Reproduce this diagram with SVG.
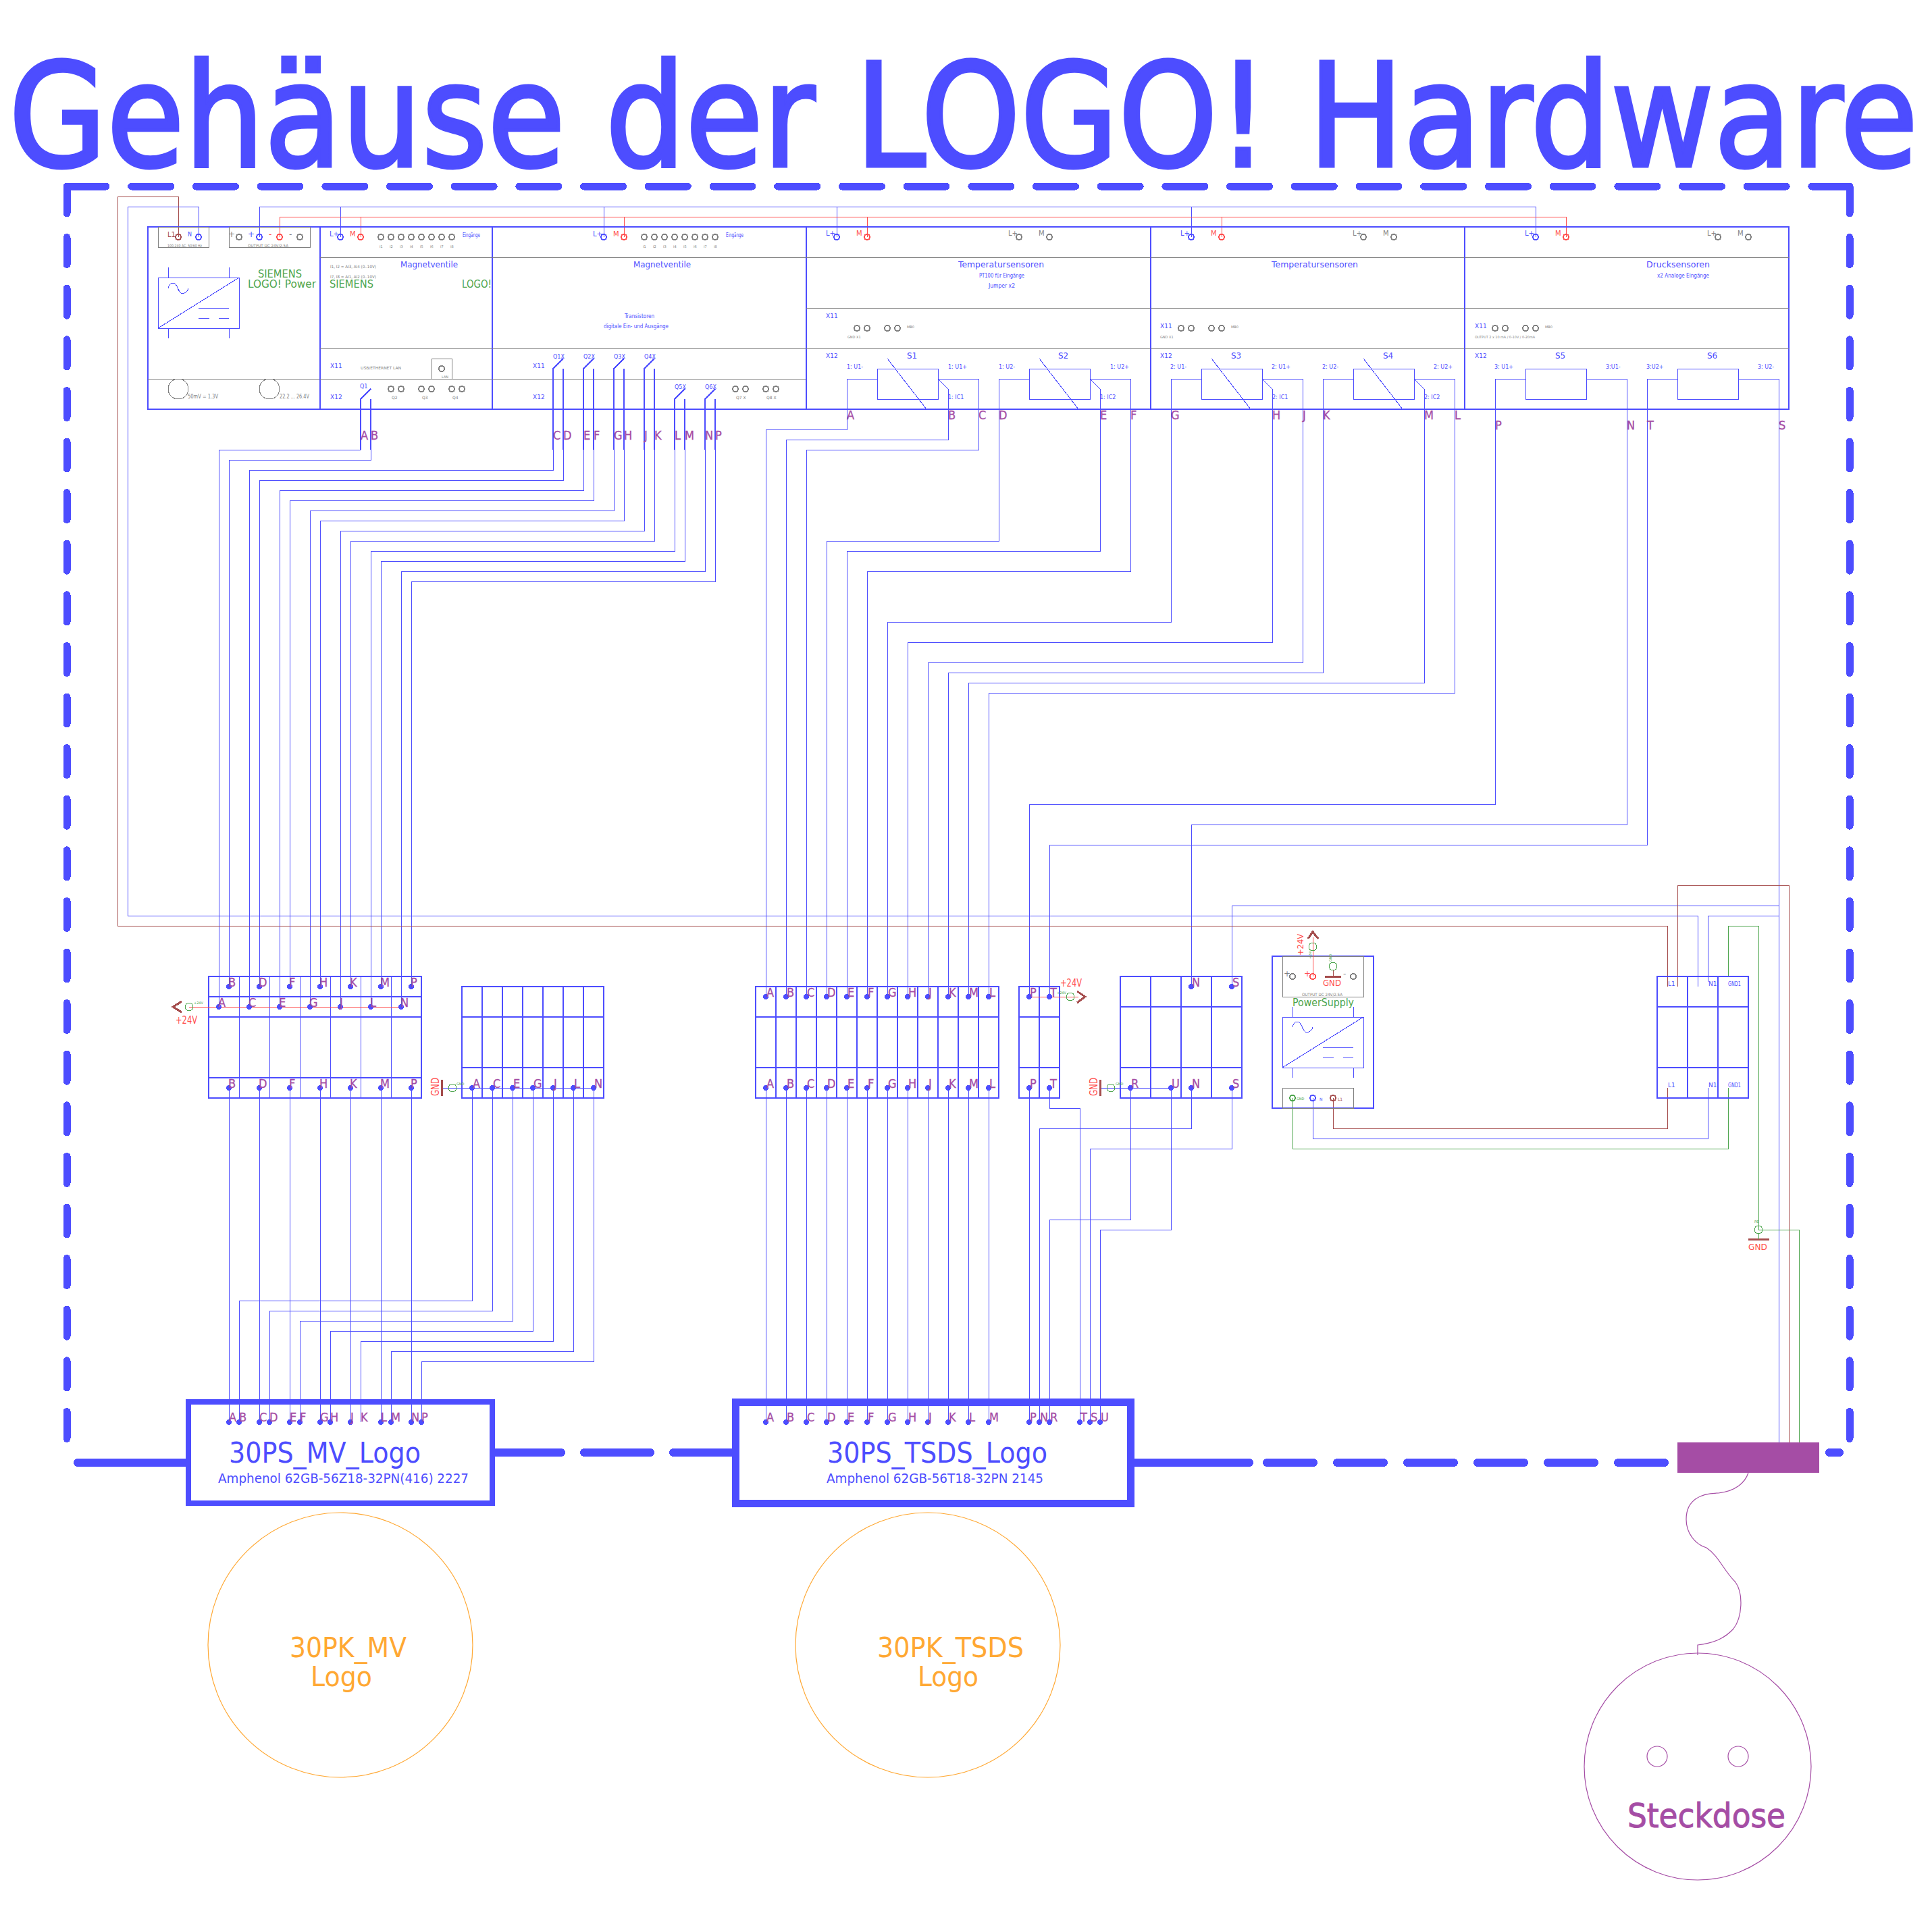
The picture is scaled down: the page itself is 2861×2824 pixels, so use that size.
<svg xmlns="http://www.w3.org/2000/svg" width="2861" height="2824" viewBox="0 0 2861 2824">
<style>
svg{background:#fff;shape-rendering:crispEdges}
text{font-family:"DejaVu Sans","Liberation Sans",sans-serif}
.f{fill:none}
.w{fill:none;stroke:#4D4DFF;stroke-width:1}
.t{fill:none;stroke:#4D4DFF;stroke-width:2}
.n{fill:none;stroke:#4D4DFF;stroke-width:1}
.q{fill:none;stroke:#4D4DFF;stroke-width:2}
.gl{fill:none;stroke:#808080;stroke-width:1}
.rw{fill:none;stroke:#FF4D4D;stroke-width:1}
.mw{fill:none;stroke:#A54D4D;stroke-width:1}
.gw{fill:none;stroke:#4DA54D;stroke-width:1}
.pw{fill:none;stroke:#A54DA5;stroke-width:1.2;shape-rendering:auto}
.ow{fill:none;stroke:#FFA833;stroke-width:1.2;shape-rendering:auto}
.tb{fill:none;stroke:#4D4DFF;stroke-width:2}
.tr{fill:none;stroke:#FF4D4D;stroke-width:2}
.tm{fill:none;stroke:#A54D4D;stroke-width:2}
.tk{fill:none;stroke:#808080;stroke-width:2}
.tg{fill:none;stroke:#4DA54D;stroke-width:1}
.sm{fill:none;stroke:#A54D4D;stroke-width:3}
.fr{fill:none;stroke:#4D4DFF;stroke-linecap:round;stroke-width:11}
.fb{fill:none;stroke:#4D4DFF;stroke-linecap:round;stroke-width:12}
.d{fill:#4D4DFF}
.l{fill:#A54DA5;stroke:#A54DA5;stroke-width:.3;font-size:18px;font-family:"DejaVu Sans Condensed","DejaVu Sans",sans-serif}
.b{fill:#4D4DFF}.r{fill:#FF4D4D}.g{fill:#4DA54D}.m{fill:#A54D4D}.k{fill:#808080}.o{fill:#FFA833}.p{fill:#A54DA5}
.s5{font-size:5px}.s6{font-size:6px}.s8{font-size:8px}.s9{font-size:9px}.s10{font-size:10px}.s12{font-size:12px}.s13{font-size:13px}.s16{font-size:16px}.s17{font-size:17px}
</style>
<defs>
<circle id="T" r="4"/>
<circle id="D" class="d" r="4"/>
<path id="sine" class="w" d="M0 0C2 -8 7 -9 10 -7C14 -4 15 5 19 7C24 9 29 5 30 0"/>
<g id="conv" class="w">
<path d="M0 0H120V75H0ZM0 75L120 0M15 -15V0M105 -15V0M15 75V90M105 75V90M60 45H105M60 60H76M90 60H105"/>
</g>
</defs>

<text id="title" transform="translate(13 246) scale(.882 1)" font-size="212" class="b" stroke="#4D4DFF" stroke-width="5">Gehäuse der LOGO! Hardware</text>

<g id="frame">
<path class="fr" stroke-dasharray="58 37.7" d="M99 276H2739"/>
<path class="fr" stroke-dasharray="40 35.6" d="M99 276V2145"/>
<path class="fr" stroke-dasharray="40 35.6" d="M2739 276V2151"/>
<path class="fb" d="M115 2166H275"/>
<path class="fb" stroke-dasharray="98 34" d="M733 2151H1089"/>
<path class="fb" d="M1680 2166H1850"/>
<path class="fb" stroke-dasharray="69 35" d="M1876 2166H2484"/>
<path class="fb" d="M2709 2151H2724"/>
</g>

<g id="connectors">
<g id="wires-mv" class="w">
<path d="M534 666H324V1491M549 666V681H339V1461M819 666V696H369V1491M834 666V711H384V1461M864 666V726H414V1491M879 666V741H429V1461M909 666V756H459V1491M924 666V771H474V1461M954 666V786H504V1491M969 666V801H519V1461M999 666V816H549V1491M1014 666V831H564V1461M1044 666V846H594V1491M1059 666V861H609V1461"/>
<path d="M339 1611V2106M384 1611V2106M429 1611V2106M474 1611V2106M519 1611V2106M564 1611V2106M609 1611V2106"/>
<path d="M699 1611V1926H354V2106M729 1611V1941H399V2106M759 1611V1956H444V2106M789 1611V1971H489V2106M819 1611V1986H534V2106M849 1611V2001H579V2106M879 1611V2016H624V2106"/>
</g>
<g id="wires-tsds" class="w">
<path d="M1254 606V636H1134V1476M1404 606V651H1164V1476M1449 606V666H1194V1476M1479 606V801H1224V1476M1629 606V816H1254V1476M1674 606V846H1284V1476M1734 606V921H1314V1476M1884 606V951H1344V1476M1929 606V981H1374V1476M1959 606V996H1404V1476M2109 606V1011H1434V1476M2154 606V1026H1464V1476"/>
<path d="M2214 606V1191H1524V1476M2439 606V1251H1554V1476M2409 606V1221H1764V1461M2634 606V2136M1824 1461V1341H2634"/>
<path d="M1134 1611V2106M1164 1611V2106M1194 1611V2106M1224 1611V2106M1254 1611V2106M1284 1611V2106M1314 1611V2106M1344 1611V2106M1374 1611V2106M1404 1611V2106M1434 1611V2106M1464 1611V2106M1524 1611V2106"/>
<path d="M1554 1611V1641H1599V2106M1764 1611V1671H1539V2106M1824 1611V1701H1614V2106M1674 1611V1806H1554V2106M1734 1611V1821H1629V2106"/>
</g>
<g id="wires-power">
<path class="mw" d="M264 351V291H174V1371H2469V1461M2484 1461V1311H2649V2136M1974 1626V1671H2469V1611"/>
<path class="w" d="M294 351V306H189V1356H2514V1461M2529 1454V1356H2634M1944 1626V1686H2529V1611"/>
<path class="w" d="M384 351V306H2274V351M504 306V351M894 306V351M1239 306V351M1764 306V351"/>
<path class="rw" d="M414 351V321H2319V351M534 321V351M924 321V351M1284 321V351M1809 321V351"/>
<path class="gw" d="M2559 1446V1371H2604V1821H2664V2136M1914 1626V1701H2559V1611"/>
</g>
</g>

<g id="logo-power">
<rect class="t" x="219" y="336" width="255" height="270"/>
<path class="gl" d="M219 561H474"/>
<rect class="gl" x="234" y="336" width="75" height="30"/>
<rect class="gl" x="339" y="336" width="120" height="30"/>
<use href="#T" class="tm" x="264" y="351"/><use href="#T" class="tb" x="294" y="351"/>
<use href="#T" class="tk" x="354" y="351"/><use href="#T" class="tb" x="384" y="351"/><use href="#T" class="tr" x="414" y="351"/><use href="#T" class="tk" x="444" y="351"/>
<text class="m s10" x="248" y="351">L1</text><text class="b s8" x="278" y="350">N</text>
<text class="k s12" x="338" y="351">+</text><text class="b s12" x="367" y="351">+</text><text class="r s12" x="398" y="351">-</text><text class="k s12" x="428" y="351">-</text>
<text class="k s6" x="248" y="366" textLength="51" lengthAdjust="spacingAndGlyphs">100-240 AC, 50/60 Hz</text>
<text class="k s6" x="367" y="366" textLength="60" lengthAdjust="spacingAndGlyphs">OUTPUT DC 24V/2.5A</text>
<use href="#conv" x="234" y="411"/><use href="#sine" x="249" y="427"/>
<text class="g s16" x="382" y="411" textLength="65" lengthAdjust="spacingAndGlyphs">SIEMENS</text>
<text class="g s16" x="367" y="426" textLength="101" lengthAdjust="spacingAndGlyphs">LOGO! Power</text>
<circle class="tk" style="stroke-width:1" cx="264" cy="576" r="15"/><circle class="tk" style="stroke-width:1" cx="399" cy="576" r="15"/>
<text class="k s9" x="278" y="590" textLength="45" lengthAdjust="spacingAndGlyphs">50mV = 1.3V</text>
<text class="k s9" x="414" y="590" textLength="44" lengthAdjust="spacingAndGlyphs">22.2 ... 26.4V</text>
</g>

<g id="logo-main">
<rect class="t" x="474" y="336" width="255" height="270"/>
<path class="gl" d="M474 381H729M474 516H729M474 561H729"/>
<use href="#T" class="tb" x="504" y="351"/><use href="#T" class="tr" x="534" y="351"/>
<use href="#T" class="tk" x="564" y="351"/><use href="#T" class="tk" x="579" y="351"/><use href="#T" class="tk" x="594" y="351"/><use href="#T" class="tk" x="609" y="351"/><use href="#T" class="tk" x="624" y="351"/><use href="#T" class="tk" x="639" y="351"/><use href="#T" class="tk" x="654" y="351"/><use href="#T" class="tk" x="669" y="351"/>
<text class="b s10" x="488" y="350">L+</text><text class="r s10" x="518" y="350">M</text>
<text class="b s8" x="685" y="351" textLength="26" lengthAdjust="spacingAndGlyphs">Eingänge</text>
<text class="k s5" x="562" y="367">I1</text><text class="k s5" x="577" y="367">I2</text><text class="k s5" x="592" y="367">I3</text><text class="k s5" x="607" y="367">I4</text><text class="k s5" x="622" y="367">I5</text><text class="k s5" x="637" y="367">I6</text><text class="k s5" x="652" y="367">I7</text><text class="k s5" x="667" y="367">I8</text>
<text class="k s6" x="489" y="397" textLength="68" lengthAdjust="spacingAndGlyphs">I1, I2 = AI3, AI4 (0..10V)</text>
<text class="k s6" x="489" y="412" textLength="68" lengthAdjust="spacingAndGlyphs">I7, I8 = AI1, AI2 (0..10V)</text>
<text class="b s13" x="593" y="396" textLength="85" lengthAdjust="spacingAndGlyphs">Magnetventile</text>
<text class="g s16" x="488" y="426" textLength="65" lengthAdjust="spacingAndGlyphs">SIEMENS</text>
<text class="g s16" x="684" y="426" textLength="44" lengthAdjust="spacingAndGlyphs">LOGO!</text>
<text class="b s9" x="489" y="545">X11</text><text class="b s9" x="489" y="591">X12</text>
<text class="k s6" x="534" y="547" textLength="60" lengthAdjust="spacingAndGlyphs">USB/ETHERNET LAN</text>
<rect class="gl" x="639" y="531" width="30" height="30"/><use href="#T" class="tk" x="654" y="546"/>
<text class="k s5" x="654" y="560">LAN</text>
<path class="q" d="M534 666V591L549 576M549 591V666"/>
<text class="b s8" x="533" y="575">Q1</text>
<use href="#T" class="tk" x="579" y="576"/><use href="#T" class="tk" x="594" y="576"/><use href="#T" class="tk" x="624" y="576"/><use href="#T" class="tk" x="639" y="576"/><use href="#T" class="tk" x="669" y="576"/><use href="#T" class="tk" x="684" y="576"/>
<text class="k s6" x="580" y="591">Q2</text><text class="k s6" x="625" y="591">Q3</text><text class="k s6" x="670" y="591">Q4</text>
</g>

<g id="logo-dm">
<rect class="t" x="729" y="336" width="465" height="270"/>
<path class="gl" d="M729 381H1194M729 516H1194M729 561H1194"/>
<use href="#T" class="tb" x="894" y="351"/><use href="#T" class="tr" x="924" y="351"/>
<use href="#T" class="tk" x="954" y="351"/><use href="#T" class="tk" x="969" y="351"/><use href="#T" class="tk" x="984" y="351"/><use href="#T" class="tk" x="999" y="351"/><use href="#T" class="tk" x="1014" y="351"/><use href="#T" class="tk" x="1029" y="351"/><use href="#T" class="tk" x="1044" y="351"/><use href="#T" class="tk" x="1059" y="351"/>
<text class="b s10" x="878" y="350">L+</text><text class="r s10" x="908" y="350">M</text>
<text class="b s8" x="1075" y="351" textLength="26" lengthAdjust="spacingAndGlyphs">Eingänge</text>
<text class="k s5" x="952" y="367">I1</text><text class="k s5" x="967" y="367">I2</text><text class="k s5" x="982" y="367">I3</text><text class="k s5" x="997" y="367">I4</text><text class="k s5" x="1012" y="367">I5</text><text class="k s5" x="1027" y="367">I6</text><text class="k s5" x="1042" y="367">I7</text><text class="k s5" x="1057" y="367">I8</text>
<text class="b s13" x="938" y="396" textLength="85" lengthAdjust="spacingAndGlyphs">Magnetventile</text>
<text class="b s9" x="925" y="471" textLength="44" lengthAdjust="spacingAndGlyphs">Transistoren</text>
<text class="b s8" x="894" y="486" textLength="96" lengthAdjust="spacingAndGlyphs">digitale Ein- und Ausgänge</text>
<text class="b s9" x="789" y="545">X11</text><text class="b s9" x="789" y="591">X12</text>
<path class="q" d="M819 666V546L834 531M834 546V666M864 666V546L879 531M879 546V666M909 666V546L924 531M924 546V666M954 666V546L969 531M969 546V666M999 666V591L1014 576M1014 591V666M1044 666V591L1059 576M1059 591V666"/>
<text class="b s8" x="819" y="531">Q1X</text><text class="b s8" x="864" y="531">Q2X</text><text class="b s8" x="909" y="531">Q3X</text><text class="b s8" x="954" y="531">Q4X</text><text class="b s8" x="999" y="576">Q5X</text><text class="b s8" x="1044" y="576">Q6X</text>
<use href="#T" class="tk" x="1089" y="576"/><use href="#T" class="tk" x="1104" y="576"/><use href="#T" class="tk" x="1134" y="576"/><use href="#T" class="tk" x="1149" y="576"/>
<text class="k s6" x="1090" y="591">Q7 X</text><text class="k s6" x="1135" y="591">Q8 X</text>
</g>

<g id="am-1">
<rect class="t" x="1194" y="336" width="510" height="270"/>
<path class="gl" d="M1194 381H1704M1194 456H1704M1194 516H1704"/>
<use href="#T" class="tb" x="1239" y="351"/><use href="#T" class="tr" x="1284" y="351"/><use href="#T" class="tk" x="1509" y="351"/><use href="#T" class="tk" x="1554" y="351"/>
<text class="b s10" x="1223" y="349">L+</text><text class="r s10" x="1268" y="349">M</text><text class="k s10" x="1493" y="349">L+</text><text class="k s10" x="1538" y="349">M</text>
<text class="b s13" x="1419" y="396" textLength="127" lengthAdjust="spacingAndGlyphs">Temperatursensoren</text>
<text class="b s8" x="1450" y="411" textLength="67" lengthAdjust="spacingAndGlyphs">PT100 für Eingänge</text>
<text class="b s8" x="1464" y="426" textLength="39" lengthAdjust="spacingAndGlyphs">Jumper x2</text>
<text class="b s9" x="1223" y="471">X11</text><text class="b s9" x="1223" y="530">X12</text>
<use href="#T" class="tk" x="1269" y="486"/><use href="#T" class="tk" x="1284" y="486"/><use href="#T" class="tk" x="1314" y="486"/><use href="#T" class="tk" x="1329" y="486"/>
<text class="k s5" x="1343" y="486">MB0</text><text class="k s5" x="1255" y="501">GND X1</text>
<text class="b s12" x="1343" y="531">S1</text><text class="b s12" x="1567" y="531">S2</text>
<text class="b s8" x="1254" y="546">1: U1-</text><text class="b s8" x="1404" y="546">1: U1+</text><text class="b s8" x="1479" y="546">1: U2-</text><text class="b s8" x="1644" y="546">1: U2+</text><text class="b s8" x="1404" y="591">1: IC1</text><text class="b s8" x="1629" y="591">1: IC2</text>
<path class="n" d="M1254 606V561H1299M1389 561H1449V606M1299 546H1389V591H1299ZM1479 606V561H1524M1614 561H1674V606M1524 546H1614V591H1524Z"/>
<path class="w" d="M1314 531L1372 606M1389 561L1404 576V606M1539 531L1597 606M1614 561L1629 576V606"/>
</g>

<g id="am-2">
<rect class="t" x="1704" y="336" width="465" height="270"/>
<path class="gl" d="M1704 381H2169M1704 456H2169M1704 516H2169"/>
<use href="#T" class="tb" x="1764" y="351"/><use href="#T" class="tr" x="1809" y="351"/><use href="#T" class="tk" x="2019" y="351"/><use href="#T" class="tk" x="2064" y="351"/>
<text class="b s10" x="1748" y="349">L+</text><text class="r s10" x="1793" y="349">M</text><text class="k s10" x="2003" y="349">L+</text><text class="k s10" x="2048" y="349">M</text>
<text class="b s13" x="1883" y="396" textLength="128" lengthAdjust="spacingAndGlyphs">Temperatursensoren</text>
<text class="b s9" x="1718" y="486">X11</text><text class="b s9" x="1718" y="530">X12</text>
<use href="#T" class="tk" x="1749" y="486"/><use href="#T" class="tk" x="1764" y="486"/><use href="#T" class="tk" x="1794" y="486"/><use href="#T" class="tk" x="1809" y="486"/>
<text class="k s5" x="1823" y="486">MB0</text><text class="k s5" x="1718" y="501">GND X1</text>
<text class="b s12" x="1823" y="531">S3</text><text class="b s12" x="2048" y="531">S4</text>
<text class="b s8" x="1733" y="546">2: U1-</text><text class="b s8" x="1883" y="546">2: U1+</text><text class="b s8" x="1958" y="546">2: U2-</text><text class="b s8" x="2123" y="546">2: U2+</text><text class="b s8" x="1884" y="591">2: IC1</text><text class="b s8" x="2109" y="591">2: IC2</text>
<path class="n" d="M1734 606V561H1779M1869 561H1929V606M1779 546H1869V591H1779ZM1959 606V561H2004M2094 561H2154V606M2004 546H2094V591H2004Z"/>
<path class="w" d="M1794 531L1852 606M1869 561L1884 576V606M2019 531L2077 606M2094 561L2109 576V606"/>
</g>

<g id="am-3">
<rect class="t" x="2169" y="336" width="480" height="270"/>
<path class="gl" d="M2169 381H2649M2169 456H2649M2169 516H2649"/>
<use href="#T" class="tb" x="2274" y="351"/><use href="#T" class="tr" x="2319" y="351"/><use href="#T" class="tk" x="2544" y="351"/><use href="#T" class="tk" x="2589" y="351"/>
<text class="b s10" x="2258" y="349">L+</text><text class="r s10" x="2303" y="349">M</text><text class="k s10" x="2528" y="349">L+</text><text class="k s10" x="2573" y="349">M</text>
<text class="b s13" x="2438" y="396" textLength="94" lengthAdjust="spacingAndGlyphs">Drucksensoren</text>
<text class="b s8" x="2454" y="411" textLength="77" lengthAdjust="spacingAndGlyphs">x2 Analoge Eingänge</text>
<text class="b s9" x="2184" y="486">X11</text><text class="b s9" x="2184" y="530">X12</text>
<use href="#T" class="tk" x="2214" y="486"/><use href="#T" class="tk" x="2229" y="486"/><use href="#T" class="tk" x="2259" y="486"/><use href="#T" class="tk" x="2274" y="486"/>
<text class="k s5" x="2288" y="486">MB0</text>
<text class="k s5" x="2184" y="501" textLength="89" lengthAdjust="spacingAndGlyphs">OUTPUT 2 x 10 mA / 0-10V / 0-20mA</text>
<text class="b s12" x="2303" y="531">S5</text><text class="b s12" x="2528" y="531">S6</text>
<text class="b s8" x="2213" y="546">3: U1+</text><text class="b s8" x="2378" y="546">3:U1-</text><text class="b s8" x="2438" y="546">3:U2+</text><text class="b s8" x="2603" y="546">3: U2-</text>
<path class="n" d="M2214 606V561H2259M2349 561H2409V606M2259 546H2349V591H2259ZM2439 606V561H2484M2574 561H2634V606M2484 546H2574V591H2484Z"/>
</g>

<g id="rack-labels">
<text class="l" x="534" y="651">A</text><text class="l" x="549" y="651">B</text><text class="l" x="819" y="651">C</text><text class="l" x="834" y="651">D</text><text class="l" x="864" y="651">E</text><text class="l" x="879" y="651">F</text><text class="l" x="909" y="651">G</text><text class="l" x="924" y="651">H</text><text class="l" x="954" y="651">J</text><text class="l" x="969" y="651">K</text><text class="l" x="999" y="651">L</text><text class="l" x="1014" y="651">M</text><text class="l" x="1044" y="651">N</text><text class="l" x="1059" y="651">P</text>
<text class="l" x="1254" y="621">A</text><text class="l" x="1404" y="621">B</text><text class="l" x="1449" y="621">C</text><text class="l" x="1479" y="621">D</text><text class="l" x="1629" y="621">E</text><text class="l" x="1674" y="621">F</text><text class="l" x="1734" y="621">G</text><text class="l" x="1884" y="621">H</text><text class="l" x="1929" y="621">J</text><text class="l" x="1959" y="621">K</text><text class="l" x="2109" y="621">M</text><text class="l" x="2154" y="621">L</text>
<text class="l" x="2214" y="636">P</text><text class="l" x="2409" y="636">N</text><text class="l" x="2439" y="636">T</text><text class="l" x="2634" y="636">S</text>
</g>

<g id="block-mv">
<path class="t" d="M309 1446H624V1626H309ZM309 1476H624M309 1506H624M309 1596H624"/>
<path class="n" d="M354 1446V1626M399 1446V1626M444 1446V1626M489 1446V1626M534 1446V1626M579 1446V1626"/>
<path class="rw" d="M280 1491H594"/>
<path class="sm" d="M269 1483L256 1491L269 1499"/><circle class="tg" cx="280" cy="1491" r="6"/>
<text class="g s5" x="287" y="1487">+24V</text>
<text class="r s16" x="260" y="1516" textLength="32" lengthAdjust="spacingAndGlyphs">+24V</text>
<use href="#D" x="339" y="1461"/><use href="#D" x="384" y="1461"/><use href="#D" x="429" y="1461"/><use href="#D" x="474" y="1461"/><use href="#D" x="519" y="1461"/><use href="#D" x="564" y="1461"/><use href="#D" x="609" y="1461"/>
<use href="#D" x="324" y="1491"/><use href="#D" x="369" y="1491"/><use href="#D" x="414" y="1491"/><use href="#D" x="459" y="1491"/><use href="#D" x="504" y="1491"/><use href="#D" x="549" y="1491"/><use href="#D" x="594" y="1491"/>
<use href="#D" x="339" y="1611"/><use href="#D" x="384" y="1611"/><use href="#D" x="429" y="1611"/><use href="#D" x="474" y="1611"/><use href="#D" x="519" y="1611"/><use href="#D" x="564" y="1611"/><use href="#D" x="609" y="1611"/>
<text class="l" x="338" y="1461">B</text><text class="l" x="383" y="1461">D</text><text class="l" x="428" y="1461">F</text><text class="l" x="473" y="1461">H</text><text class="l" x="518" y="1461">K</text><text class="l" x="563" y="1461">M</text><text class="l" x="608" y="1461">P</text>
<text class="l" x="323" y="1491">A</text><text class="l" x="368" y="1491">C</text><text class="l" x="413" y="1491">E</text><text class="l" x="458" y="1491">G</text><text class="l" x="503" y="1491">J</text><text class="l" x="548" y="1491">L</text><text class="l" x="593" y="1491">N</text>
<text class="l" x="338" y="1611">B</text><text class="l" x="383" y="1611">D</text><text class="l" x="428" y="1611">F</text><text class="l" x="473" y="1611">H</text><text class="l" x="518" y="1611">K</text><text class="l" x="563" y="1611">M</text><text class="l" x="608" y="1611">P</text>
</g>

<g id="block-mv-gnd">
<path class="t" d="M684 1461H894V1626H684ZM684 1506H894M684 1581H894"/>
<path class="q" d="M714 1461V1626M744 1461V1626M774 1461V1626M804 1461V1626M834 1461V1626M864 1461V1626"/>
<path class="w" d="M654 1611H879"/>
<path class="sm" d="M654 1599V1623"/><circle class="tg" cx="670" cy="1611" r="6"/>
<text class="g s5" x="676" y="1607">GND</text>
<text class="r s16" transform="translate(650 1623) rotate(-90)" textLength="27" lengthAdjust="spacingAndGlyphs">GND</text>
<use href="#D" x="699" y="1611"/><use href="#D" x="729" y="1611"/><use href="#D" x="759" y="1611"/><use href="#D" x="789" y="1611"/><use href="#D" x="819" y="1611"/><use href="#D" x="849" y="1611"/><use href="#D" x="879" y="1611"/>
<text class="l" x="700" y="1611">A</text><text class="l" x="730" y="1611">C</text><text class="l" x="760" y="1611">E</text><text class="l" x="790" y="1611">G</text><text class="l" x="820" y="1611">J</text><text class="l" x="850" y="1611">L</text><text class="l" x="880" y="1611">N</text>
</g>

<g id="block-tsds">
<path class="t" d="M1119 1461H1479V1626H1119ZM1119 1506H1479M1119 1581H1479"/>
<path class="q" d="M1149 1461V1626M1179 1461V1626M1209 1461V1626M1239 1461V1626M1269 1461V1626M1299 1461V1626M1329 1461V1626M1359 1461V1626M1389 1461V1626M1419 1461V1626M1449 1461V1626"/>
<use href="#D" x="1134" y="1476"/><use href="#D" x="1164" y="1476"/><use href="#D" x="1194" y="1476"/><use href="#D" x="1224" y="1476"/><use href="#D" x="1254" y="1476"/><use href="#D" x="1284" y="1476"/><use href="#D" x="1314" y="1476"/><use href="#D" x="1344" y="1476"/><use href="#D" x="1374" y="1476"/><use href="#D" x="1404" y="1476"/><use href="#D" x="1434" y="1476"/><use href="#D" x="1464" y="1476"/>
<use href="#D" x="1134" y="1611"/><use href="#D" x="1164" y="1611"/><use href="#D" x="1194" y="1611"/><use href="#D" x="1224" y="1611"/><use href="#D" x="1254" y="1611"/><use href="#D" x="1284" y="1611"/><use href="#D" x="1314" y="1611"/><use href="#D" x="1344" y="1611"/><use href="#D" x="1374" y="1611"/><use href="#D" x="1404" y="1611"/><use href="#D" x="1434" y="1611"/><use href="#D" x="1464" y="1611"/>
<text class="l" x="1135" y="1476">A</text><text class="l" x="1165" y="1476">B</text><text class="l" x="1195" y="1476">C</text><text class="l" x="1225" y="1476">D</text><text class="l" x="1255" y="1476">E</text><text class="l" x="1285" y="1476">F</text><text class="l" x="1315" y="1476">G</text><text class="l" x="1345" y="1476">H</text><text class="l" x="1375" y="1476">J</text><text class="l" x="1405" y="1476">K</text><text class="l" x="1435" y="1476">M</text><text class="l" x="1465" y="1476">L</text>
<text class="l" x="1135" y="1611">A</text><text class="l" x="1165" y="1611">B</text><text class="l" x="1195" y="1611">C</text><text class="l" x="1225" y="1611">D</text><text class="l" x="1255" y="1611">E</text><text class="l" x="1285" y="1611">F</text><text class="l" x="1315" y="1611">G</text><text class="l" x="1345" y="1611">H</text><text class="l" x="1375" y="1611">J</text><text class="l" x="1405" y="1611">K</text><text class="l" x="1435" y="1611">M</text><text class="l" x="1465" y="1611">L</text>
</g>

<g id="block-pt">
<path class="t" d="M1509 1461H1569V1626H1509ZM1509 1506H1569M1509 1581H1569"/>
<path class="q" d="M1539 1461V1626"/>
<path class="rw" d="M1524 1476H1597"/>
<circle class="tg" cx="1585" cy="1476" r="6"/><path class="sm" d="M1595 1468L1607 1476L1595 1485"/>
<text class="g s5" x="1565" y="1472">+24V</text>
<text class="r s16" x="1570" y="1461" textLength="32" lengthAdjust="spacingAndGlyphs">+24V</text>
<use href="#D" x="1524" y="1476"/><use href="#D" x="1554" y="1476"/><use href="#D" x="1524" y="1611"/><use href="#D" x="1554" y="1611"/>
<text class="l" x="1525" y="1476">P</text><text class="l" x="1555" y="1476">T</text><text class="l" x="1525" y="1611">P</text><text class="l" x="1555" y="1611">T</text>
</g>

<g id="block-rns">
<path class="t" d="M1659 1446H1839V1626H1659ZM1659 1491H1839M1659 1581H1839"/>
<path class="q" d="M1704 1446V1626M1749 1446V1626M1794 1446V1626"/>
<path class="w" d="M1629 1611H1734"/>
<path class="sm" d="M1629 1599V1623"/><circle class="tg" cx="1645" cy="1611" r="6"/>
<text class="g s5" x="1652" y="1607">GND</text>
<text class="r s16" transform="translate(1625 1623) rotate(-90)" textLength="27" lengthAdjust="spacingAndGlyphs">GND</text>
<use href="#D" x="1764" y="1461"/><use href="#D" x="1824" y="1461"/>
<use href="#D" x="1674" y="1611"/><use href="#D" x="1734" y="1611"/><use href="#D" x="1764" y="1611"/><use href="#D" x="1824" y="1611"/>
<text class="l" x="1765" y="1461">N</text><text class="l" x="1825" y="1461">S</text>
<text class="l" x="1675" y="1611">R</text><text class="l" x="1735" y="1611">U</text><text class="l" x="1765" y="1611">N</text><text class="l" x="1825" y="1611">S</text>
</g>

<g id="power-supply">
<rect class="t" x="1884" y="1416" width="150" height="225"/>
<rect class="gl" x="1899" y="1416" width="120" height="60"/>
<rect class="gl" x="1899" y="1611" width="105" height="30"/>
<use href="#T" class="tk" x="1914" y="1446"/><use href="#T" class="tr" x="1944" y="1446"/><use href="#T" class="tk" x="2004" y="1446"/>
<text class="k s12" x="1901" y="1446">+</text><text class="r s12" x="1931" y="1446">+</text><text class="k s12" x="1989" y="1446">-</text>
<path class="rw" d="M1944 1446V1388"/>
<path class="sm" d="M1937 1390L1944 1380L1952 1390"/><circle class="tg" cx="1944" cy="1402" r="6"/>
<text class="g s5" transform="translate(1942 1420) rotate(-90)">+24V</text>
<text class="r s13" transform="translate(1930 1415) rotate(-90)" textLength="32" lengthAdjust="spacingAndGlyphs">+24V</text>
<path class="sm" d="M1962 1446H1986"/><path class="mw" d="M1974 1446V1437"/><circle class="tg" cx="1974" cy="1431" r="6"/>
<text class="g s5" transform="translate(1972 1424) rotate(-90)">GND</text>
<text class="r s13" x="1959" y="1460" textLength="27" lengthAdjust="spacingAndGlyphs">GND</text>
<text class="k s6" x="1928" y="1475" textLength="60" lengthAdjust="spacingAndGlyphs">OUTPUT DC 24V/2.5A</text>
<text class="g s16" x="1914" y="1490" textLength="91" lengthAdjust="spacingAndGlyphs">PowerSupply</text>
<use href="#conv" x="1899" y="1506"/><use href="#sine" x="1914" y="1521"/>
<use href="#T" class="tg" style="stroke-width:2" x="1914" y="1626"/><use href="#T" class="tb" x="1944" y="1626"/><use href="#T" class="tm" x="1974" y="1626"/>
<text class="g s5" x="1920" y="1629">GND</text><text class="b s6" x="1954" y="1630">N</text><text class="m s6" x="1981" y="1630">L1</text>
</g>

<g id="distributor">
<path class="t" d="M2454 1446H2589V1626H2454ZM2454 1491H2589M2454 1581H2589"/>
<path class="q" d="M2499 1446V1626M2544 1446V1626"/>
<text class="b s9" x="2470" y="1460">L1</text><text class="b s9" x="2530" y="1460">N1</text><text class="b s9" x="2559" y="1460" textLength="19" lengthAdjust="spacingAndGlyphs">GND1</text>
<text class="b s9" x="2470" y="1610">L1</text><text class="b s9" x="2530" y="1610">N1</text><text class="b s9" x="2559" y="1610" textLength="19" lengthAdjust="spacingAndGlyphs">GND1</text>
</g>

<g id="gnd-main">
<circle class="tg" cx="2604" cy="1821" r="6"/>
<path class="sm" d="M2589 1835H2620"/><path class="gw" d="M2604 1827V1835"/>
<text class="g s5" x="2598" y="1811">PE</text>
<text class="r s13" x="2589" y="1851" textLength="28" lengthAdjust="spacingAndGlyphs">GND</text>
</g>

<g id="conn-mv">
<rect x="279" y="2076" width="450" height="150" fill="none" stroke="#4D4DFF" stroke-width="8"/>
<use href="#D" x="339" y="2106"/><use href="#D" x="354" y="2106"/><use href="#D" x="384" y="2106"/><use href="#D" x="399" y="2106"/><use href="#D" x="429" y="2106"/><use href="#D" x="444" y="2106"/><use href="#D" x="474" y="2106"/><use href="#D" x="489" y="2106"/><use href="#D" x="519" y="2106"/><use href="#D" x="564" y="2106"/><use href="#D" x="579" y="2106"/><use href="#D" x="609" y="2106"/><use href="#D" x="624" y="2106"/>
<text class="l" x="339" y="2105">A</text><text class="l" x="354" y="2105">B</text><text class="l" x="384" y="2105">C</text><text class="l" x="399" y="2105">D</text><text class="l" x="429" y="2105">E</text><text class="l" x="444" y="2105">F</text><text class="l" x="474" y="2105">G</text><text class="l" x="489" y="2105">H</text><text class="l" x="519" y="2105">J</text><text class="l" x="534" y="2105">K</text><text class="l" x="564" y="2105">L</text><text class="l" x="579" y="2105">M</text><text class="l" x="609" y="2105">N</text><text class="l" x="624" y="2105">P</text>
<text class="b" x="339" y="2166" font-size="42" textLength="284" lengthAdjust="spacingAndGlyphs">30PS_MV_Logo</text>
<text class="b" x="323" y="2196" font-size="20" textLength="371" lengthAdjust="spacingAndGlyphs">Amphenol 62GB-56Z18-32PN(416) 2227</text>
</g>

<g id="conn-tsds">
<rect x="1089" y="2076" width="585" height="150" fill="none" stroke="#4D4DFF" stroke-width="11"/>
<use href="#D" x="1134" y="2106"/><use href="#D" x="1164" y="2106"/><use href="#D" x="1194" y="2106"/><use href="#D" x="1224" y="2106"/><use href="#D" x="1254" y="2106"/><use href="#D" x="1284" y="2106"/><use href="#D" x="1314" y="2106"/><use href="#D" x="1344" y="2106"/><use href="#D" x="1374" y="2106"/><use href="#D" x="1404" y="2106"/><use href="#D" x="1434" y="2106"/><use href="#D" x="1464" y="2106"/><use href="#D" x="1524" y="2106"/><use href="#D" x="1539" y="2106"/><use href="#D" x="1554" y="2106"/><use href="#D" x="1599" y="2106"/><use href="#D" x="1614" y="2106"/><use href="#D" x="1629" y="2106"/>
<text class="l" x="1135" y="2105">A</text><text class="l" x="1165" y="2105">B</text><text class="l" x="1195" y="2105">C</text><text class="l" x="1225" y="2105">D</text><text class="l" x="1255" y="2105">E</text><text class="l" x="1285" y="2105">F</text><text class="l" x="1315" y="2105">G</text><text class="l" x="1345" y="2105">H</text><text class="l" x="1375" y="2105">J</text><text class="l" x="1405" y="2105">K</text><text class="l" x="1435" y="2105">L</text><text class="l" x="1465" y="2105">M</text><text class="l" x="1525" y="2105">P</text><text class="l" x="1540" y="2105">N</text><text class="l" x="1555" y="2105">R</text><text class="l" x="1600" y="2105">T</text><text class="l" x="1615" y="2105">S</text><text class="l" x="1630" y="2105">U</text>
<text class="b" x="1225" y="2166" font-size="42" textLength="326" lengthAdjust="spacingAndGlyphs">30PS_TSDS_Logo</text>
<text class="b" x="1224" y="2196" font-size="20" textLength="321" lengthAdjust="spacingAndGlyphs">Amphenol 62GB-56T18-32PN 2145</text>
</g>

<g id="pk-mv">
<circle class="ow" cx="504" cy="2436" r="196"/>
<text class="o" x="429" y="2454" font-size="40" textLength="173" lengthAdjust="spacingAndGlyphs">30PK_MV</text>
<text class="o" x="460" y="2497" font-size="40" textLength="91" lengthAdjust="spacingAndGlyphs">Logo</text>
</g>
<g id="pk-tsds">
<circle class="ow" cx="1374" cy="2436" r="196"/>
<text class="o" x="1299" y="2454" font-size="40" textLength="217" lengthAdjust="spacingAndGlyphs">30PK_TSDS</text>
<text class="o" x="1359" y="2497" font-size="40" textLength="90" lengthAdjust="spacingAndGlyphs">Logo</text>
</g>

<g id="plug">
<rect x="2484" y="2136" width="210" height="45" fill="#A54DA5"/>
<path class="pw" d="M2589 2181C2584 2196 2570 2208 2545 2211C2520 2211 2497 2220 2497 2250C2497 2270 2510 2287 2527 2292C2545 2304 2552 2325 2570 2343C2582 2360 2580 2395 2567 2412C2555 2425 2540 2433 2514 2436V2451"/>
</g>
<g id="steckdose">
<circle class="pw" cx="2514" cy="2616" r="168"/>
<circle class="pw" cx="2454" cy="2601" r="15"/><circle class="pw" cx="2574" cy="2601" r="15"/>
<text class="p" x="2410" y="2706" font-size="50" stroke="#A54DA5" stroke-width="1" textLength="234" lengthAdjust="spacingAndGlyphs">Steckdose</text>
</g>
</svg>
